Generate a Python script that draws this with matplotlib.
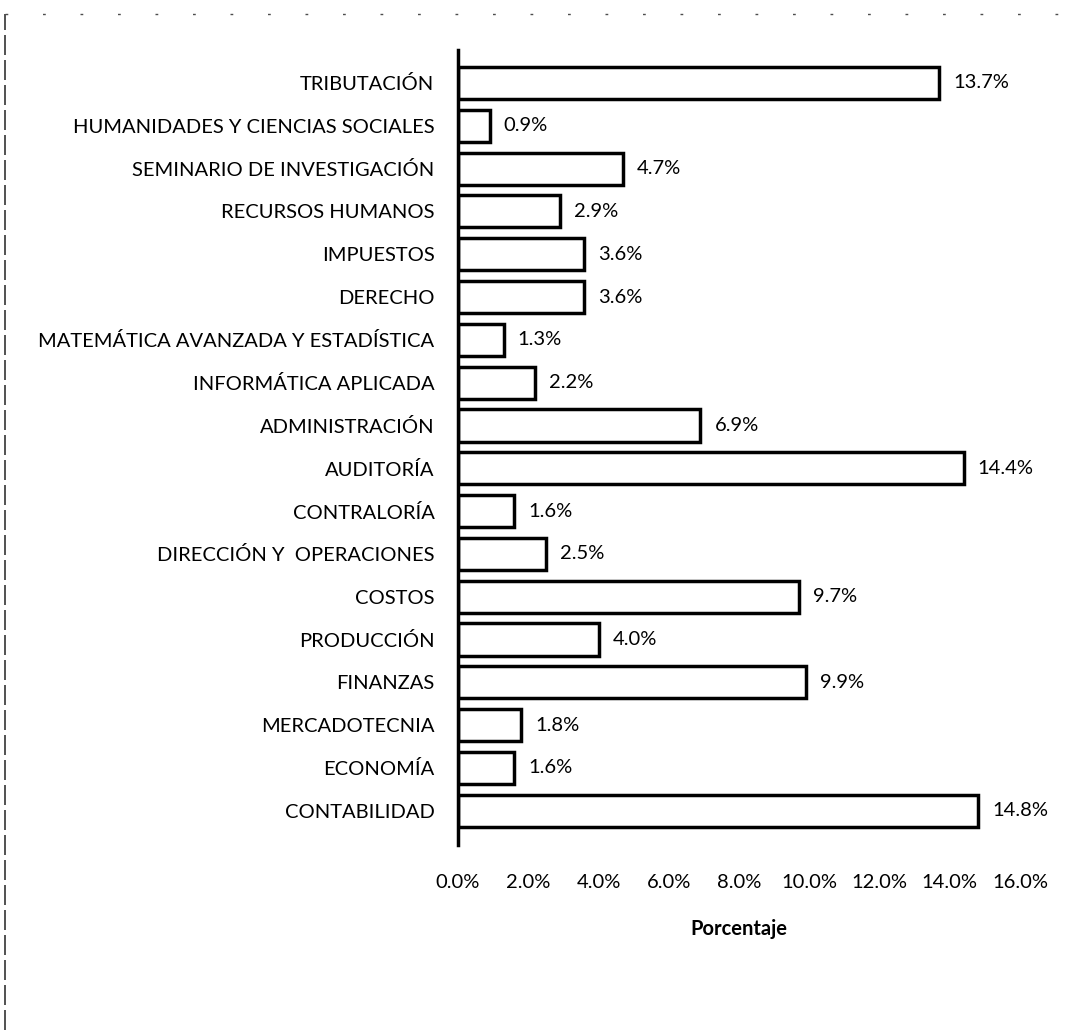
"""Horizontal bar chart of course percentages (scanned Excel chart)"""

import matplotlib
matplotlib.use('Agg')
import matplotlib.pyplot as plt
from matplotlib.lines import Line2D

plt.rcParams['font.family'] = ['Lato', 'DejaVu Sans']

# Data, top to bottom as drawn
cursos = ["TRIBUTACIÓN", "HUMANIDADES Y CIENCIAS SOCIALES",
          "SEMINARIO DE INVESTIGACIÓN", "RECURSOS HUMANOS", "IMPUESTOS",
          "DERECHO", "MATEMÁTICA AVANZADA Y ESTADÍSTICA",
          "INFORMÁTICA APLICADA", "ADMINISTRACIÓN", "AUDITORÍA",
          "CONTRALORÍA", "DIRECCIÓN Y  OPERACIONES", "COSTOS", "PRODUCCIÓN",
          "FINANZAS", "MERCADOTECNIA", "ECONOMÍA", "CONTABILIDAD"]
porcentajes = [13.7, 0.9, 4.7, 2.9, 3.6, 3.6, 1.3, 2.2, 6.9, 14.4,
               1.6, 2.5, 9.7, 4.0, 9.9, 1.8, 1.6, 14.8]
xticks = [0, 2, 4, 6, 8, 10, 12, 14, 16]

W, H = 1079, 1036
fs = 14.5
fig = plt.figure(figsize=(W / 100, H / 100), dpi=100)
ax = fig.add_axes([458 / W, 1 - 845 / H, (1020 - 458) / W, (845 - 50) / H])

pos = list(range(len(cursos)))
ax.barh(pos, porcentajes, height=0.75, color="white", edgecolor="black",
        linewidth=2.5)

# value labels
for y, v in zip(pos, porcentajes):
    ax.text(v + 0.4, y, "{0:.1f}%".format(v), size=fs, ha="left", va="center")

ax.set_xlim(0, 16)
ax.set_ylim(17.8, -0.77)
ax.set_yticks(pos)
ax.set_yticklabels(cursos, size=fs)
ax.set_xticks(xticks)
ax.set_xticklabels(["{0:.1f}%".format(t) for t in xticks], size=fs)
ax.tick_params(axis="y", length=0, pad=17)
ax.tick_params(axis="x", length=0, pad=21)
ax.set_xlabel("Porcentaje", size=fs, fontweight="bold", labelpad=20)

for s in ["top", "right", "bottom"]:
    ax.spines[s].set_visible(False)
ax.spines["left"].set_linewidth(2.5)

# scanned page border (left and top)
fig.add_artist(Line2D([5 / W, 5 / W], [1 - 1030 / H, 1 - 14 / H],
                      color="0.2", lw=1.2, ls=(0, (12, 3))))
fig.add_artist(Line2D([5 / W, 1075 / W], [1 - 14 / H, 1 - 14 / H],
                      color="0.3", lw=1, ls=(0, (2, 25))))

fig.savefig("out.png", dpi=100, facecolor="white")
